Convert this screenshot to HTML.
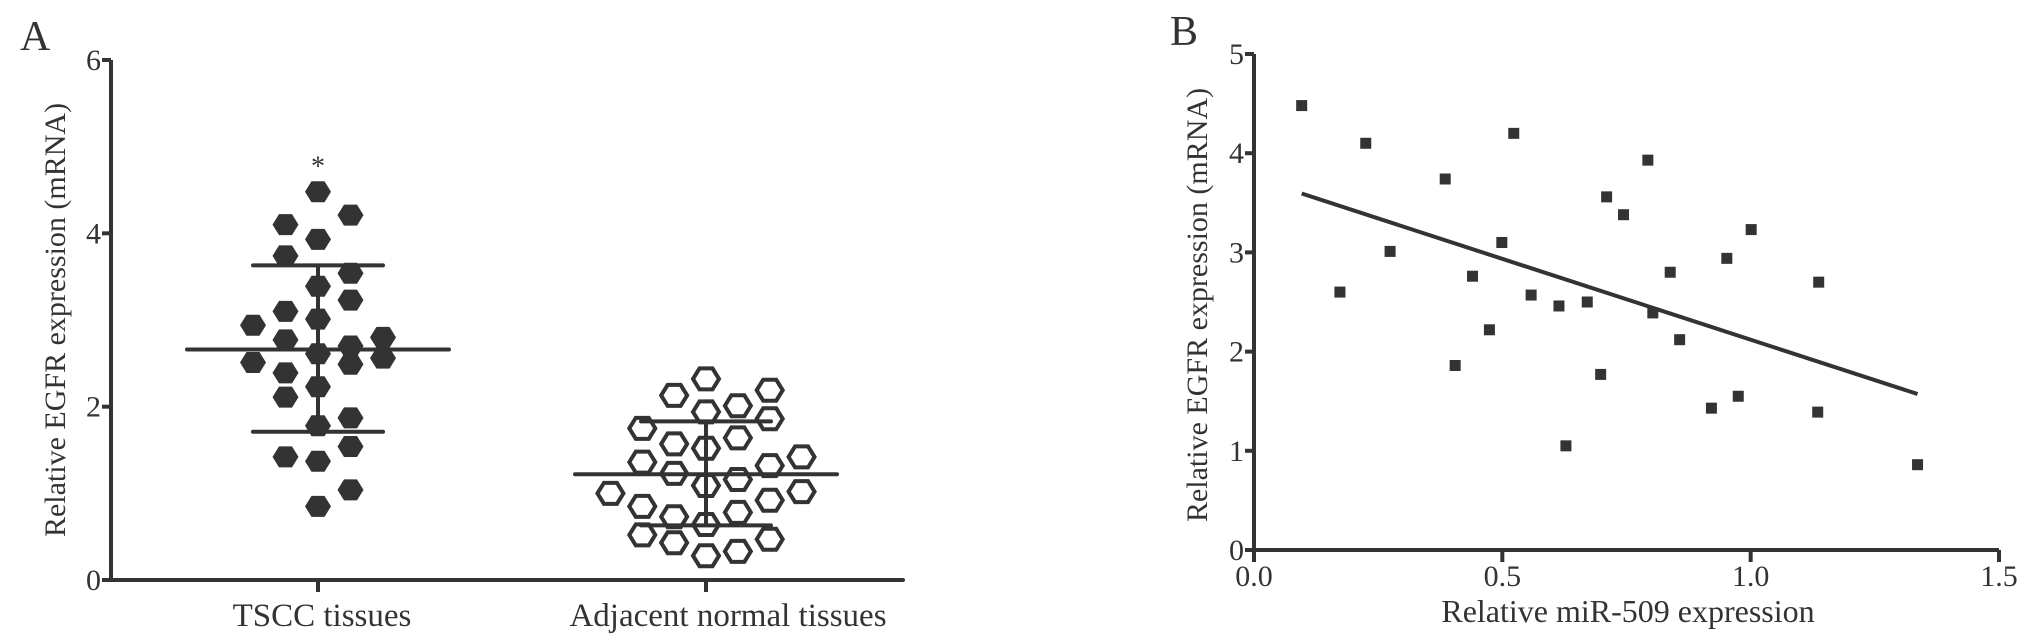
<!DOCTYPE html>
<html><head><meta charset="utf-8"><style>
html,body{margin:0;padding:0;background:#fff;}
svg{display:block;}
text{font-family:"Liberation Serif",serif;fill:#333;}
</style></head><body>
<svg id="fig" width="2031" height="644" viewBox="0 0 2031 644" xmlns="http://www.w3.org/2000/svg">
<g id="panelA"></g>
<g id="panelB"></g>
</svg>
<script>
// ---- Panel A data ----
const catsA = ["TSCC tissues", "Adjacent normal tissues"];
const yTicksA = [0, 2, 4, 6];
const tsccVals = [4.48,4.21,4.10,3.93,3.74,3.54,3.39,3.23,3.10,3.01,2.94,2.80,2.77,2.70,2.61,2.56,2.51,2.49,2.39,2.23,2.11,1.87,1.78,1.54,1.42,1.37,1.04,0.85];
const tsccCols = [0,1,-1,0,-1,1,0,1,-1,0,-2,2,-1,1,0,2,-2,1,-1,0,-1,1,0,1,-1,0,1,0];
const normVals = [2.32,2.19,2.13,2.01,1.94,1.86,1.75,1.64,1.57,1.52,1.42,1.36,1.32,1.23,1.16,1.09,1.00,1.02,0.92,0.85,0.78,0.73,0.64,0.52,0.47,0.43,0.33,0.28];
const normCols = [0,2,-1,1,0,2,-2,1,-1,0,3,-2,2,-1,1,0,-3,3,2,-2,1,-1,0,-2,2,-1,1,0];
const meanA = [2.66, 1.22];
const sdHiA = [3.63, 1.83];
const sdLoA = [1.71, 0.63];
// ---- Panel B data ----
const xTicksB = [0.0, 0.5, 1.0, 1.5];
const xTickLabelsB = ["0.0", "0.5", "1.0", "1.5"];
const yTicksB = [0, 1, 2, 3, 4, 5];
const mirX = [0.096,0.173,0.225,0.274,0.385,0.405,0.440,0.474,0.499,0.523,0.558,0.614,0.628,0.671,0.698,0.710,0.744,0.793,0.803,0.838,0.857,0.921,0.952,0.975,1.001,1.135,1.137,1.336];
const egfrY = [4.48,2.60,4.10,3.01,3.74,1.86,2.76,2.22,3.10,4.20,2.57,2.46,1.05,2.50,1.77,3.56,3.38,3.93,2.39,2.80,2.12,1.43,2.94,1.55,3.23,1.39,2.70,0.86];
const fitParams = [3.75, -1.63]; // intercept, slope

const NS = "http://www.w3.org/2000/svg";
const C = "#333";
function mk(parent, tag, attrs){const e=document.createElementNS(NS,tag);for(const k in attrs)e.setAttribute(k,attrs[k]);parent.appendChild(e);return e;}

// ---------- Panel A ----------
const A = document.getElementById('panelA');
const ax0 = 111, ax1 = 903, ay0 = 580, ayTop = 60;
const yA = v => ay0 - (v/6)*(ay0-ayTop);
const catX = [318, 706];
const labelShift = [4, 22];
const colW = 32.5;

let t = mk(A,'text',{x:20,y:50,'font-size':42});
t.textContent = "A";



let axl = mk(A,'line',{x1:ax0,y1:yA(6),x2:ax0,y2:ay0,stroke:C,'stroke-width':4});


axl = mk(A,'line',{x1:ax0-2,y1:ay0,x2:ax1,y2:ay0,stroke:C,'stroke-width':4,'stroke-linecap':'round'});



yTicksA.forEach(v=>{
  const tk = mk(A,'line',{x1:ax0-9,y1:yA(v),x2:ax0,y2:yA(v),stroke:C,'stroke-width':4});
  
  
  const lb = mk(A,'text',{x:ax0-10,y:yA(v)+10,'font-size':30,'text-anchor':'end'});
  lb.textContent = v;
  
  
});
catsA.forEach((c,i)=>{
  const tk = mk(A,'line',{x1:catX[i],y1:ay0,x2:catX[i],y2:ay0+12,stroke:C,'stroke-width':4});
  
  
  const lb = mk(A,'text',{x:catX[i]+labelShift[i],y:626,'font-size':33,'text-anchor':'middle'});
  lb.textContent = c;
  
  
});
let yt = mk(A,'text',{x:0,y:0,'font-size':30,'text-anchor':'middle',transform:'translate(65,320) rotate(-90)'});
yt.textContent = "Relative EGFR expression (mRNA)";



function hex(cx,cy){const w=13,h=10.5,q=6.5;return `${cx-w},${cy} ${cx-q},${cy-h} ${cx+q},${cy-h} ${cx+w},${cy} ${cx+q},${cy+h} ${cx-q},${cy+h}`;}
tsccVals.forEach((v,i)=>{
  const p = mk(A,'polygon',{points:hex(catX[0]+tsccCols[i]*colW,yA(v)),fill:C});
  
  
});
normVals.forEach((v,i)=>{
  const p = mk(A,'polygon',{points:hex(catX[1]+normCols[i]*colW*0.98,yA(v)),fill:'none',stroke:C,'stroke-width':4});
  
  
});
catX.forEach((cx,i)=>{
  const m = mk(A,'line',{x1:cx-131,y1:yA(meanA[i]),x2:cx+131,y2:yA(meanA[i]),stroke:C,'stroke-width':4,'stroke-linecap':'round'});
  
  
  const v = mk(A,'line',{x1:cx,y1:yA(sdHiA[i]),x2:cx,y2:yA(sdLoA[i]),stroke:C,'stroke-width':4});
  
  
  [sdHiA[i],sdLoA[i]].forEach(s=>{
    const w = mk(A,'line',{x1:cx-65,y1:yA(s),x2:cx+65,y2:yA(s),stroke:C,'stroke-width':4,'stroke-linecap':'round'});
    
    
  });
});
let ast = mk(A,'text',{x:catX[0],y:yA(Math.max(...tsccVals))-16,'font-size':28,'text-anchor':'middle'});
ast.textContent = "*";



// ---------- Panel B ----------
const B = document.getElementById('panelB');
const bx0 = 1254, bx1 = 1999, by0 = 550, byTop = 54;
const xB = v => bx0 + (v/1.5)*(bx1-bx0);
const yB = v => by0 - (v/5)*(by0-byTop);

t = mk(B,'text',{x:1170,y:45,'font-size':42});
t.textContent = "B";



axl = mk(B,'line',{x1:bx0,y1:yB(5),x2:bx0,y2:by0,stroke:C,'stroke-width':4});


axl = mk(B,'line',{x1:bx0,y1:by0,x2:bx1,y2:by0,stroke:C,'stroke-width':4});



yTicksB.forEach(v=>{
  const tk = mk(B,'line',{x1:bx0-9,y1:yB(v),x2:bx0,y2:yB(v),stroke:C,'stroke-width':4});
  
  
  const lb = mk(B,'text',{x:bx0-10,y:yB(v)+10,'font-size':30,'text-anchor':'end'});
  lb.textContent = v;
  
  
});
xTicksB.forEach((v,i)=>{
  const tk = mk(B,'line',{x1:xB(v),y1:by0,x2:xB(v),y2:by0+12,stroke:C,'stroke-width':4});
  
  
  const lb = mk(B,'text',{x:xB(v),y:by0+36,'font-size':30,'text-anchor':'middle'});
  lb.textContent = xTickLabelsB[i];
  
  
});
yt = mk(B,'text',{x:0,y:0,'font-size':30,'text-anchor':'middle',transform:'translate(1207,305) rotate(-90)'});
yt.textContent = "Relative EGFR expression (mRNA)";


let xt = mk(B,'text',{x:1628,y:622,'font-size':32,'text-anchor':'middle'});
xt.textContent = "Relative miR-509 expression";



const fx0 = Math.min(...mirX), fx1 = Math.max(...mirX);
const fit = mk(B,'line',{x1:xB(fx0),y1:yB(fitParams[0]+fitParams[1]*fx0),x2:xB(fx1),y2:yB(fitParams[0]+fitParams[1]*fx1),stroke:C,'stroke-width':4});



mirX.forEach((x,i)=>{
  const r = mk(B,'rect',{x:xB(x)-5.5,y:yB(egfrY[i])-5.5,width:11,height:11,fill:C});
  
  
});
</script>
</body></html>
